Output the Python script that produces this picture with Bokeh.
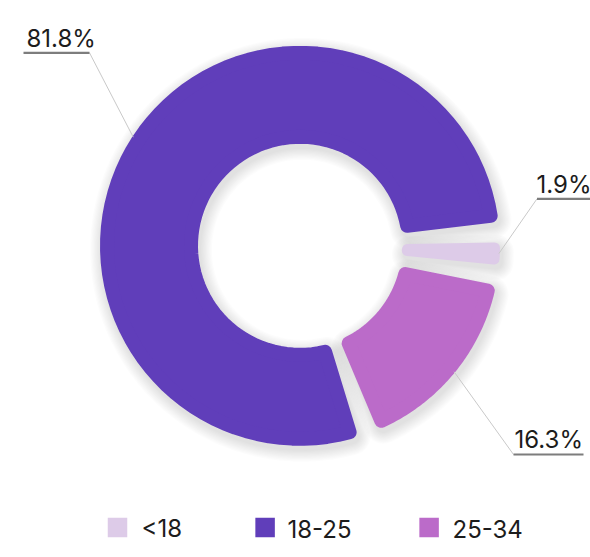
import math
from bokeh.plotting import figure
from bokeh.models import ColumnDataSource, Range1d
from bokeh.core.properties import value
from bokeh.embed import file_html
from bokeh.resources import INLINE

# ---- data ----
categories = ["<18", "18-25", "25-34"]
shares = [1.9, 81.8, 16.3]
labels = ["1.9%", "81.8%", "16.3%"]
colors = ["#ddcbe8", "#603eba", "#bb6bc9"]

# ---- layout ----
W, H = 590, 557
CX, CY = 299.5, 245.3
R_OUT, R_IN = 200.0, 102.0
GAP = 5.85          # degrees between slices
START = -5.5        # math angle (deg) where first slice starts, counter-clockwise
CORNER = 7.0
FONT = "Inter"
TEXT_SHIFT = -8     # baseline correction

p = figure(width=W, height=H, output_backend="svg", toolbar_location=None,
           x_range=Range1d(0, W), y_range=Range1d(H, 0),
           x_axis_location=None, y_axis_location=None, min_border=0)
p.grid.visible = False
p.outline_line_color = None
p.background_fill_color = "white"
p.border_fill_color = "white"


def arc_pts(rho, t0, t1, n=80):
    xs, ys = [], []
    for i in range(n + 1):
        t = math.radians(t0 + (t1 - t0) * i / n)
        xs.append(CX + rho * math.cos(t))
        ys.append(CY - rho * math.sin(t))
    return xs, ys


total = sum(shares)
avail = 360.0 - GAP * len(shares)
spans = [s / total * avail for s in shares]
bounds = []
a = START
for sp in spans:
    bounds.append((a, a + sp))
    a += sp + GAP

polys_x, polys_y, cs = [], [], []
for (a0, a1) in bounds:
    h = math.radians((a1 - a0) / 2)
    lim = R_IN * math.sin(h) / (1 - math.sin(h))
    c = min(CORNER, 0.9 * lim)
    do = math.degrees(math.asin(c / (R_OUT - c)))
    di = math.degrees(math.asin(c / (R_IN + c)))
    ox, oy = arc_pts(R_OUT - c, a0 + do, a1 - do)
    ix, iy = arc_pts(R_IN + c, a1 - di, a0 + di)
    polys_x.append(ox + ix)
    polys_y.append(oy + iy)
    cs.append(c)

# ---- soft shadow ----
sh_x, sh_y, sh_w = [], [], []
for k in range(1, 11):
    for xs, ys, c in zip(polys_x, polys_y, cs):
        sh_x.append([x + 2 for x in xs])
        sh_y.append([y + 4 for y in ys])
        sh_w.append(2 * c + 2.4 * k)
p.patches(xs="xs", ys="ys", source=ColumnDataSource(dict(xs=sh_x, ys=sh_y, lw=sh_w)),
          fill_color="black", fill_alpha=0.008, line_color="black", line_alpha=0.012,
          line_width="lw", line_join="round")

# ---- slices ----
src = ColumnDataSource(dict(xs=polys_x, ys=polys_y, color=colors, lw=[2 * c for c in cs]))
p.patches(xs="xs", ys="ys", source=src, fill_color="color", line_color="color",
          line_width="lw", line_join="round")

# ---- labels with leader lines ----
label_pos = {
    "<18": dict(tx=536, ty=192, u0=536.5, u1=590, uy=198.3, side="left"),
    "18-25": dict(tx=26, ty=46, u0=23, u1=89, uy=52.3, side="right"),
    "25-34": dict(tx=514, ty=447, u0=513, u1=583, uy=454, side="left"),
}
for cat, lab, (a0, a1) in zip(categories, labels, bounds):
    lp = label_pos[cat]
    mid = math.radians((a0 + a1) / 2)
    ax = CX + (R_OUT - 1) * math.cos(mid)
    ay = CY - (R_OUT - 1) * math.sin(mid)
    ex = lp["u0"] if lp["side"] == "left" else lp["u1"]
    p.line([ax, ex], [ay, lp["uy"]], line_color="#c9c9c9", line_width=1)
    p.line([lp["u0"], lp["u1"]], [lp["uy"], lp["uy"]], line_color="#7d7d7d", line_width=2.2)
    p.text(x=[lp["tx"]], y=[lp["ty"] + TEXT_SHIFT], text=[lab], text_font=value(FONT),
           text_font_size="24px", text_color="#1c1c1c", text_baseline="alphabetic",
           text_align="left")

# ---- legend ----
leg_sq_x = [117, 264.6, 428.6]
leg_tx = [141, 287, 452]
LEG_Y = 527
p.rect(x=leg_sq_x, y=[LEG_Y] * 3, width=19.5, height=19.5, fill_color=colors, line_color=None)
p.text(x=leg_tx, y=[536 + TEXT_SHIFT] * 3, text=categories, text_font=value(FONT),
       text_font_size="24px", text_color="#1c1c1c", text_baseline="alphabetic",
       text_align="left")

open("out.html", "w").write(file_html(p, INLINE))
